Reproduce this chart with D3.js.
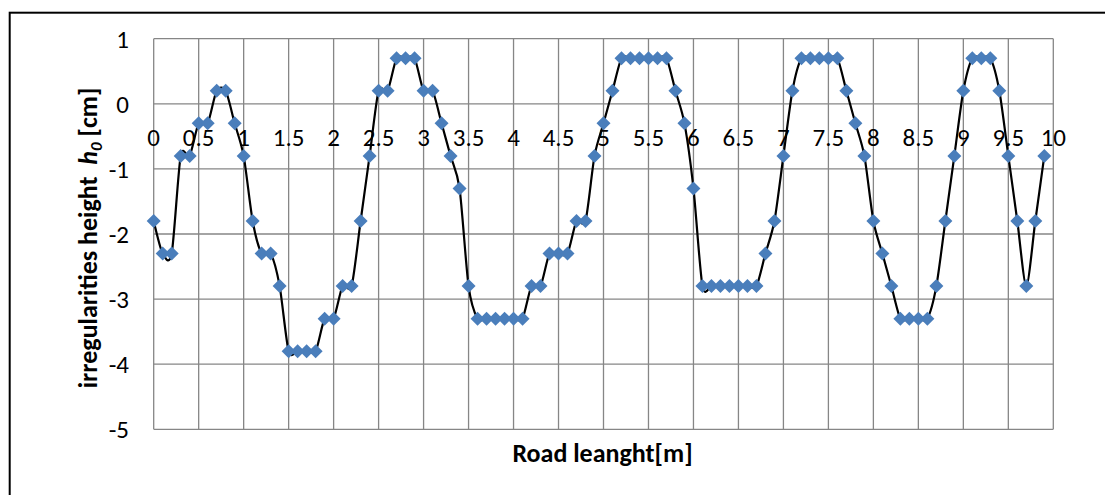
<!DOCTYPE html>
<html><head><meta charset="utf-8">
<script src="https://cdn.jsdelivr.net/npm/d3@7"></script>
<style>
body{margin:0;background:#fff;}
svg text{font-family:Carlito,Calibri,Lato,"Open Sans",sans-serif;}
</style></head>
<body><svg id="c" width="1105" height="495"></svg>
<script>
// Data
const distance = d3.range(0, 100).map(i => +(i * 0.1).toFixed(1));
const height = [
 -1.8,-2.3,-2.3,-0.8,-0.8,-0.3,-0.3,0.2,0.2,-0.3,
 -0.8,-1.8,-2.3,-2.3,-2.8,-3.8,-3.8,-3.8,-3.8,-3.3,
 -3.3,-2.8,-2.8,-1.8,-0.8,0.2,0.2,0.7,0.7,0.7,
 0.2,0.2,-0.3,-0.8,-1.3,-2.8,-3.3,-3.3,-3.3,-3.3,
 -3.3,-3.3,-2.8,-2.8,-2.3,-2.3,-2.3,-1.8,-1.8,-0.8,
 -0.3,0.2,0.7,0.7,0.7,0.7,0.7,0.7,0.2,-0.3,
 -1.3,-2.8,-2.8,-2.8,-2.8,-2.8,-2.8,-2.8,-2.3,-1.8,
 -0.8,0.2,0.7,0.7,0.7,0.7,0.7,0.2,-0.3,-0.8,
 -1.8,-2.3,-2.8,-3.3,-3.3,-3.3,-3.3,-2.8,-1.8,-0.8,
 0.2,0.7,0.7,0.7,0.2,-0.8,-1.8,-2.8,-1.8,-0.8
];
const xTicks = [0,0.5,1,1.5,2,2.5,3,3.5,4,4.5,5,5.5,6,6.5,7,7.5,8,8.5,9,9.5,10];
const yTicks = [1,0,-1,-2,-3,-4,-5];
const xTitle = "Road leanght[m]";

const svg = d3.select("#c");
const L = 153.7, R = 1053.3, T = 38.7, B = 429.3;
const x = d3.scaleLinear().domain([0,10]).range([L,R]);
const y = d3.scaleLinear().domain([-5,1]).range([B,T]);

// outer chart border
svg.append("rect").attr("x",9.7).attr("y",12.7).attr("width",1105).attr("height",495)
  .attr("fill","none").attr("stroke","#000").attr("stroke-width",2);

const grid = "#868686";
svg.append("g").selectAll("line").data(xTicks).join("line")
  .attr("x1",d=>x(d)).attr("x2",d=>x(d)).attr("y1",T).attr("y2",B)
  .attr("stroke",grid).attr("stroke-width",1.3);
svg.append("g").selectAll("line").data(yTicks).join("line")
  .attr("x1",L).attr("x2",R).attr("y1",d=>y(d)).attr("y2",d=>y(d))
  .attr("stroke",grid).attr("stroke-width",1.3);

// y tick labels
svg.append("g").selectAll("text").data(yTicks).join("text")
  .attr("x",129).attr("y",d=>y(d)).attr("dy","0.36em")
  .attr("text-anchor","end").attr("font-size",25).attr("fill","#000")
  .text(d=>d);

// x tick labels (placed at the y = 0 line)
svg.append("g").selectAll("text").data(xTicks).join("text")
  .attr("x",d=>x(d)).attr("y",146)
  .attr("text-anchor","middle").attr("font-size",25).attr("fill","#000")
  .text(d=>d);

// line
const line = d3.line().x((d,i)=>x(distance[i])).y(d=>y(d)).curve(d3.curveCardinal.tension(0.2));
svg.append("path").datum(height).attr("d",line)
  .attr("fill","none").attr("stroke","#000").attr("stroke-width",2.2);

// markers
svg.append("g").selectAll("path").data(height).join("path")
  .attr("transform",(d,i)=>`translate(${x(distance[i])},${y(d)})`)
  .attr("d","M0,-7L7,0L0,7L-7,0Z")
  .attr("fill","#4a7ebb");

// axis titles
svg.append("text").attr("x",(L+R)/2 - 1).attr("y",461.5)
  .attr("text-anchor","middle").attr("font-size",26).attr("font-weight","bold")
  .text(xTitle);

const yt = svg.append("text").attr("transform",`translate(97,${(T+B)/2 + 4}) rotate(-90)`)
  .attr("text-anchor","middle").attr("font-size",26).attr("font-weight","bold");
yt.append("tspan").text("irregularities height\u00a0\u00a0");
yt.append("tspan").attr("font-style","italic").text("h");
yt.append("tspan").attr("font-style","italic").attr("font-size",17).attr("dy",5).text("0");
yt.append("tspan").attr("dy",-5).text(" [cm]");
</script></body></html>
